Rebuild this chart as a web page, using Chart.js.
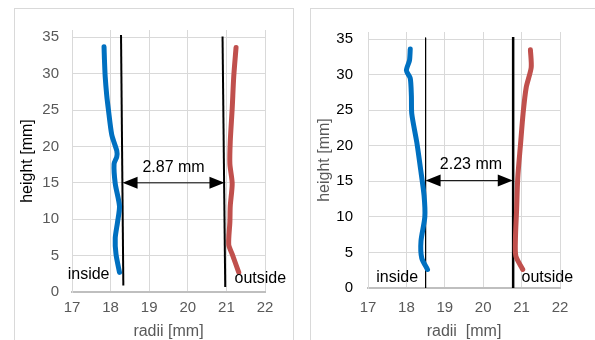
<!DOCTYPE html>
<html>
<head>
<meta charset="utf-8">
<script src="https://cdn.jsdelivr.net/npm/chart.js@4/dist/chart.umd.min.js"></script>
<style>
  body { margin: 0; background: #fff; width: 595px; height: 340px; overflow: hidden; position: relative; }
  .frame { position: absolute; border: 1px solid #d9d9d9; box-sizing: border-box; height: 400px; }
  canvas { position: absolute; }
</style>
</head>
<body>
<div class="frame" style="left:14px;top:8px;width:280px"></div>
<div class="frame" style="left:310px;top:8px;width:400px"></div>
<canvas id="left" width="279" height="332" style="left:14px;top:8px"></canvas>
<canvas id="right" width="285" height="332" style="left:310px;top:8px"></canvas>
<script>
const xTicks = [17, 18, 19, 20, 21, 22]
const yTicks = [0, 5, 10, 15, 20, 25, 30, 35]

// left panel: measured contours (radius, height)
const leftInsideR = [17.83, 17.84, 17.86, 17.9, 17.94, 18.03, 18.16, 18.16, 18.09, 18.12, 18.23, 18.18, 18.12, 18.14, 18.23]
const leftInsideH = [33.7, 32, 29.6, 27, 25.2, 21.6, 19.4, 18.6, 17.6, 14.9, 11.8, 9.6, 7.4, 5.2, 2.7]
const leftOutsideR = [21.25, 21.19, 21.15, 21.1, 21.09, 21.15, 21.1, 21.09, 21.06, 21.15, 21.32]
const leftOutsideH = [33.6, 29.6, 25.2, 20.7, 17.6, 14.9, 11.8, 9.6, 6.5, 5.2, 2.7]
const leftWallR = [[18.27, 18.33], [20.9, 20.97]]
const leftWallH = [[35.3, 0.9], [35.1, 0.7]]

// right panel
const rightInsideR = [18.10, 18.08, 18.0, 18.1, 18.13, 18.14, 18.27, 18.37, 18.46, 18.48, 18.38, 18.4, 18.55]
const rightInsideH = [33.6, 32, 30.6, 29.5, 27, 24.5, 20.5, 16.7, 13, 10, 6.6, 4.2, 2.6]
const rightOutsideR = [21.23, 21.25, 21.12, 21.04, 20.97, 20.9, 20.87, 20.84, 20.85, 21.03]
const rightOutsideH = [33.5, 31, 28.2, 24.6, 20.1, 15.5, 11, 7, 4.5, 2.6]
const rightWallR = [[18.5, 18.5], [20.78, 20.78]]
const rightWallH = [[35.2, 0], [35.3, 0]]

const gaps = ["2.87 mm", "2.23 mm"]

const font = "'Liberation Sans', Arial, sans-serif"

function pts(xs, ys) {
  return xs.map((x, i) => ({ x, y: ys[i] }))
}

const annotate = {
  id: "annotate",
  afterDatasetsDraw(chart, args, opts) {
    const { ctx, scales: { x, y } } = chart
    ctx.save()
    // double arrow
    const ay = y.getPixelForValue(opts.arrow.y)
    const x1 = x.getPixelForValue(opts.arrow.from)
    const x2 = x.getPixelForValue(opts.arrow.to)
    ctx.strokeStyle = "#000"
    ctx.fillStyle = "#000"
    ctx.lineWidth = 1
    ctx.beginPath()
    ctx.moveTo(x1 + 10, ay)
    ctx.lineTo(x2 - 10, ay)
    ctx.stroke()
    ctx.beginPath()
    ctx.moveTo(x1, ay); ctx.lineTo(x1 + 15, ay - 6); ctx.lineTo(x1 + 15, ay + 6); ctx.closePath()
    ctx.moveTo(x2, ay); ctx.lineTo(x2 - 15, ay - 6); ctx.lineTo(x2 - 15, ay + 6); ctx.closePath()
    ctx.fill()
    ctx.font = "16px " + font
    ctx.textAlign = "center"
    ctx.textBaseline = "middle"
    opts.texts.forEach(t => {
      ctx.fillText(t.text, x.getPixelForValue(t.x), y.getPixelForValue(t.y))
    })
    ctx.restore()
  }
}

function makeChart(id, s) {
  const walls = s.wallR.map((r, i) => ({
    data: pts(r, s.wallH[i]),
    borderColor: "#000",
    borderWidth: s.wallWidths[i],
    pointRadius: 0,
    showLine: true
  }))
  new Chart(document.getElementById(id), {
    type: "scatter",
    data: {
      datasets: [
        { data: pts(s.inR, s.inH), borderColor: "#0070C0", borderWidth: 5, pointRadius: 0, showLine: true, tension: 0.25, borderCapStyle: "round", borderJoinStyle: "round" },
        { data: pts(s.outR, s.outH), borderColor: "#C0504D", borderWidth: 5, pointRadius: 0, showLine: true, tension: 0.25, borderCapStyle: "round", borderJoinStyle: "round" },
        ...walls
      ]
    },
    options: {
      responsive: false,
      animation: false,
      devicePixelRatio: 1,
      layout: { padding: s.padding },
      plugins: {
        legend: { display: false },
        tooltip: { enabled: false },
        annotate: { arrow: s.arrow, texts: s.texts }
      },
      scales: {
        x: {
          min: 17, max: 22,
          afterBuildTicks: axis => { axis.ticks = xTicks.map(v => ({ value: v })) },
          afterFit: axis => { axis.height = s.xHeight },
          grid: { color: "#d9d9d9", drawTicks: false },
          border: { color: "#bfbfbf", width: 2 },
          ticks: { color: "#595959", font: { family: font, size: 15 }, padding: s.xTickPad, maxRotation: 0 },
          title: { display: true, text: s.xTitle, color: "#595959", font: { family: font, size: 16, lineHeight: 1 }, padding: 0 }
        },
        y: {
          min: 0, max: 36,
          afterBuildTicks: axis => { axis.ticks = yTicks.map(v => ({ value: v })) },
          afterFit: axis => { axis.width = 58 },
          grid: { color: "#d9d9d9", drawTicks: false },
          border: { color: "#d9d9d9", width: 1 },
          ticks: { color: s.yTickColor, font: { family: font, size: 15 }, padding: s.yTickPad },
          title: { display: true, text: "height [mm]", color: s.yTitleColor, font: { family: font, size: 16, lineHeight: 1 }, padding: { top: s.yTitlePad } }
        }
      }
    },
    plugins: [annotate]
  })
}

makeChart("left", {
  inR: leftInsideR, inH: leftInsideH, outR: leftOutsideR, outH: leftOutsideH,
  wallR: leftWallR, wallH: leftWallH, wallWidths: [2, 2],
  padding: { left: 0, top: 14, right: 28, bottom: 0 },
  xHeight: 48, xTickPad: 7, yTickPad: 13, yTitlePad: 6,
  xTitle: "radii [mm]", yTickColor: "#595959", yTitleColor: "#000",
  arrow: { y: 15, from: 18.31, to: 20.95 },
  texts: [
    { text: gaps[0], x: 19.63, y: 17.1 },
    { text: "inside", x: 17.43, y: 2.4 },
    { text: "outside", x: 21.88, y: 1.9 }
  ]
})

makeChart("right", {
  inR: rightInsideR, inH: rightInsideH, outR: rightOutsideR, outH: rightOutsideH,
  wallR: rightWallR, wallH: rightWallH, wallWidths: [1, 2.5],
  padding: { left: 0, top: 12, right: 35, bottom: 0 },
  xHeight: 52, xTickPad: 11, yTickPad: 15, yTitlePad: 7,
  xTitle: "radii  [mm]", yTickColor: "#000", yTitleColor: "#595959",
  arrow: { y: 15.1, from: 18.5, to: 20.77 },
  texts: [
    { text: gaps[1], x: 19.68, y: 17.4 },
    { text: "inside", x: 17.76, y: 1.5 },
    { text: "outside", x: 21.67, y: 1.5 }
  ]
})
</script>
</body>
</html>
